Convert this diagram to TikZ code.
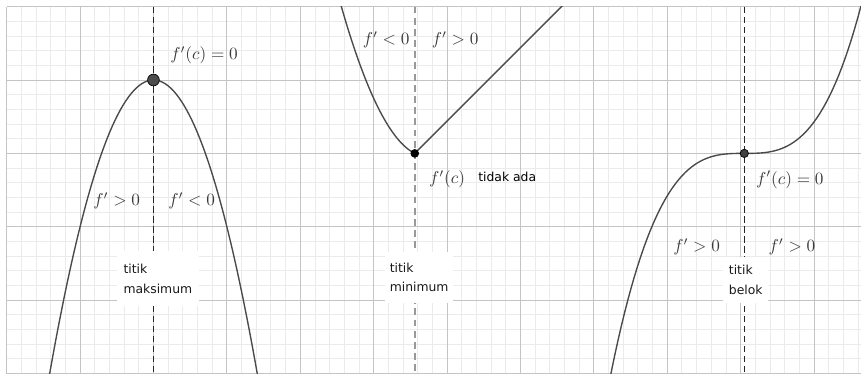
\documentclass[tikz,border=0pt]{standalone}
\usepackage{fontspec}
\newfontfamily\lblfont{DejaVu Sans}

\definecolor{gridmajor}{HTML}{C4C4C4}
\definecolor{gridminor}{HTML}{EBEBEB}
\definecolor{curvegray}{HTML}{4A4A4A}
\definecolor{mathgray}{HTML}{3A3A3A}

\tikzset{
    curve/.style={curvegray, line width=0.8pt},
    guide/.style={black!85, line width=0.55pt, dash pattern=on 3.8pt off 2pt},
    guidegray/.style={black!40, line width=1pt, dash pattern=on 4pt off 2.5pt},
    mathlbl/.style={mathgray, inner sep=0pt},
    lblbox/.style={fill=white, align=left, anchor=north west, inner sep=0pt,
        font=\lblfont\fontsize{7.2}{11.6}\selectfont, text=black!90},
    critpt/.style={circle, draw=black, line width=0.4pt, fill=#1, inner sep=0pt}
}

\begin{document}
\begin{tikzpicture}[
    scale=1.5
]
\useasboundingbox (-0.091,0) rectangle (11.64,5.09);
\clip (-0.091,0) rectangle (11.64,5.09);

% === Grid ===
\draw[gridminor, line width=0.5pt] (0,0) grid[step=0.2] (11.64,5);
\draw[gridmajor, line width=0.55pt] (0,0) grid[step=1] (11.64,5);

% === Guides through the critical points ===
\draw[guide] (2,5) -- (2,0);
\draw[guidegray] (5.56,5) -- (5.56,0);
\draw[guide] (10.05,5) -- (10.05,0);

% === Curves ===
\begin{scope}
\clip (0,0) rectangle (11.64,5);
% maximum
\draw[curve, domain=0.58:3.42, samples=80]
    plot (\x, {4-2*(\x-2)*(\x-2)});
% minimum (corner)
\draw[curve, domain=4.55:5.56, samples=50]
    plot (\x, {3+1.5*(\x-5.56)*(\x-5.56)-0.5*(\x-5.56)}) -- (7.66,5.1);
% inflection
\draw[curve, domain=8.2:11.64, samples=80]
    plot (\x, {3+0.5*(\x-10.05)*(\x-10.05)*(\x-10.05)});
\end{scope}

% === Points ===
\node[critpt=black!70, minimum size=0.24cm] (pmax) at (2,4) {};
\node[critpt=black, minimum size=0.16cm] (pmin) at (5.56,3) {};
\node[critpt=black!75, minimum size=0.17cm] (pbelok) at (10.05,3) {};

% === Maximum labels ===
\node[mathlbl] (fcmax) at (2.69,4.34) {$f'(c)=0$};
\node[mathlbl] (fposmax) at (1.50,2.35) {$f'>0$};
\node[mathlbl] (fnegmax) at (2.52,2.35) {$f'<0$};
\node[lblbox, minimum width=1.665cm, minimum height=1.14cm] (boxmax)
    at (1.50,1.68) {titik\\maksimum};

% === Minimum labels ===
\node[mathlbl] (fnegmin) at (5.17,4.55) {$f'<0$};
\node[mathlbl] (fposmin) at (6.11,4.55) {$f'>0$};
\node[mathlbl] (fcmin) at (6.0,2.65) {$f'(c)$};
\node[inner sep=0pt, font=\lblfont\fontsize{7.2}{11.6}\selectfont] (tidak)
    at (6.82,2.68) {tidak ada};
\node[lblbox, minimum width=1.395cm, minimum height=1.035cm] (boxmin)
    at (5.15,1.66) {titik\\minimum};

% === Inflection labels ===
\node[mathlbl] (fcbelok) at (10.67,2.64) {$f'(c)=0$};
\node[mathlbl] (fposl) at (9.40,1.73) {$f'>0$};
\node[mathlbl] (fposr) at (10.70,1.73) {$f'>0$};
\node[lblbox, minimum width=0.915cm, minimum height=0.945cm] (boxbelok)
    at (9.76,1.59) {titik\\belok};

\end{tikzpicture}
\end{document}
